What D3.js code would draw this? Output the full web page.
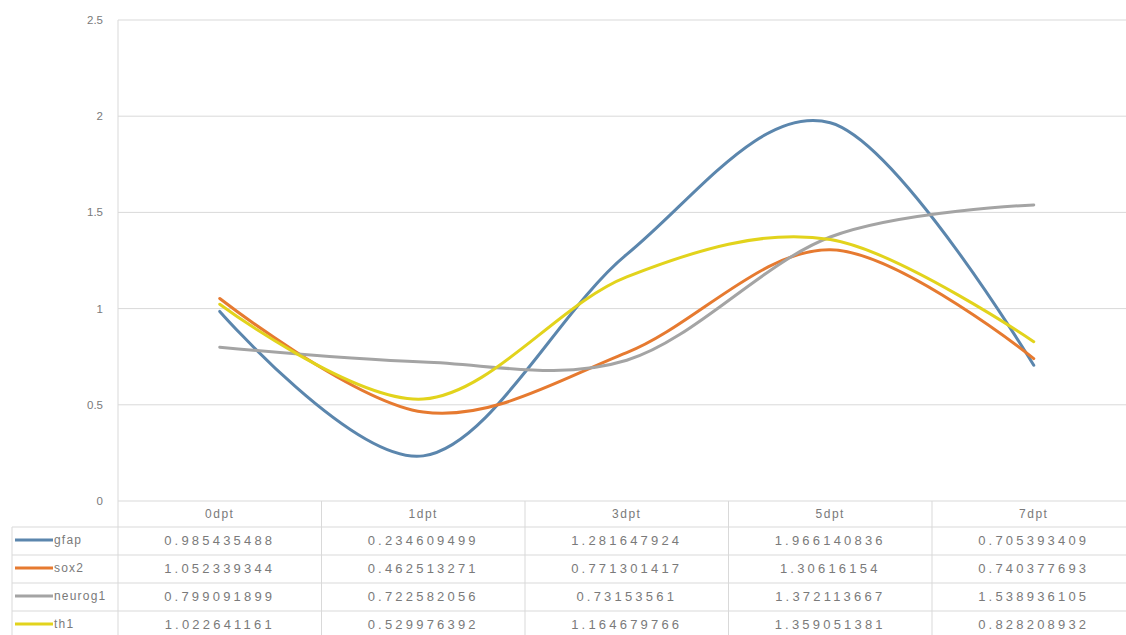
<!DOCTYPE html>
<html>
<head>
<meta charset="utf-8">
<script src="https://cdn.jsdelivr.net/npm/d3@7/dist/d3.min.js"></script>
<style>
  html, body { margin: 0; padding: 0; background: #ffffff; }
  svg { display: block; }
  text { font-family: "Liberation Sans", "DejaVu Sans", sans-serif; fill: #7a7a7a; }
</style>
</head>
<body>
<svg id="chart" width="1126" height="635"></svg>
<script>
// Time points (x categories)
const categories = ["0dpt", "1dpt", "3dpt", "5dpt", "7dpt"];

// Relative expression per marker
const gfap    = [0.985435488, 0.234609499, 1.281647924, 1.966140836, 0.705393409];
const sox2    = [1.052339344, 0.462513271, 0.771301417, 1.30616154, 0.740377693];
const neurog1 = [0.799091899, 0.722582056, 0.73153561, 1.372113667, 1.538936105];
const th1     = [1.022641161, 0.529976392, 1.164679766, 1.359051381, 0.828208932];

// Value-axis tick labels
const yTicks = [0, 0.5, 1, 1.5, 2, 2.5];
const yTickLabels = ["0", "0.5", "1", "1.5", "2", "2.5"];

const seriesNames = ["gfap", "sox2", "neurog1", "th1"];
const seriesValues = [gfap, sox2, neurog1, th1];
const seriesColors = ["#5b86ad", "#e67a30", "#a4a4a4", "#e2d31c"];

const svg = d3.select("#chart");

const plotLeft = 118, plotRight = 1135.5;
const plotTop = 20, plotBottom = 501;
const tableLeft = 12;
const headerBottom = 527;
const rowH = 28;

const x = d3.scaleBand().domain(categories).range([plotLeft, plotRight]).paddingInner(0).paddingOuter(0);
const y = d3.scaleLinear().domain([0, 2.5]).range([plotBottom, plotTop]);

const gridColor = "#d9d9d9";

// Horizontal gridlines
svg.append("g").selectAll("line").data(yTicks).join("line")
  .attr("x1", plotLeft).attr("x2", 1126)
  .attr("y1", d => y(d)).attr("y2", d => y(d))
  .attr("stroke", gridColor).attr("stroke-width", 1);

// Vertical value axis line
svg.append("line")
  .attr("x1", plotLeft).attr("x2", plotLeft)
  .attr("y1", plotTop).attr("y2", 635)
  .attr("stroke", gridColor).attr("stroke-width", 1);

// Value axis labels
svg.append("g").selectAll("text").data(yTicks).join("text")
  .attr("x", 103).attr("y", d => y(d) + 4)
  .attr("text-anchor", "end")
  .attr("font-size", 11.5)
  .text((d, i) => yTickLabels[i]);

// Data table grid
const tableRows = seriesNames.length;
const rowLines = d3.range(tableRows + 1).map(i => headerBottom + i * rowH);
svg.append("g").selectAll("line").data(rowLines).join("line")
  .attr("x1", tableLeft).attr("x2", 1126)
  .attr("y1", d => d).attr("y2", d => d)
  .attr("stroke", gridColor).attr("stroke-width", 1);

svg.append("line")
  .attr("x1", tableLeft).attr("x2", tableLeft)
  .attr("y1", headerBottom).attr("y2", 635)
  .attr("stroke", gridColor);

svg.append("g").selectAll("line").data(categories.slice(1)).join("line")
  .attr("x1", d => x(d)).attr("x2", d => x(d))
  .attr("y1", plotBottom).attr("y2", 635)
  .attr("stroke", gridColor);

// Category headers
svg.append("g").selectAll("text").data(categories).join("text")
  .attr("x", d => x(d) + x.bandwidth() / 2)
  .attr("y", (plotBottom + headerBottom) / 2 + 4)
  .attr("text-anchor", "middle")
  .attr("font-size", 12)
  .attr("letter-spacing", 1.5)
  .text(d => d);

// Table rows: legend key + values
seriesNames.forEach((name, si) => {
  const cy = headerBottom + si * rowH + rowH / 2;
  svg.append("line")
    .attr("x1", tableLeft + 3).attr("x2", 53)
    .attr("y1", cy - 1).attr("y2", cy - 1)
    .attr("stroke", seriesColors[si]).attr("stroke-width", 3);
  svg.append("text")
    .attr("x", 54).attr("y", cy + 3)
    .attr("font-size", 12)
    .attr("letter-spacing", 1.2)
    .text(name);
  svg.append("g").selectAll("text").data(seriesValues[si]).join("text")
    .attr("x", (d, i) => x(categories[i]) + x.bandwidth() / 2)
    .attr("y", cy + 4)
    .attr("text-anchor", "middle")
    .attr("font-size", 13)
    .attr("letter-spacing", 3.2)
    .text(d => String(d));
});

// Smoothed series lines
const line = d3.line()
  .x((d, i) => x(categories[i]) + x.bandwidth() / 2)
  .y(d => y(d))
  .curve(d3.curveCatmullRom.alpha(0));

svg.append("g").selectAll("path").data(seriesValues).join("path")
  .attr("d", d => line(d))
  .attr("fill", "none")
  .attr("stroke", (d, i) => seriesColors[i])
  .attr("stroke-width", 3)
  .attr("stroke-linecap", "round")
  .attr("stroke-linejoin", "round");
</script>
</body>
</html>
